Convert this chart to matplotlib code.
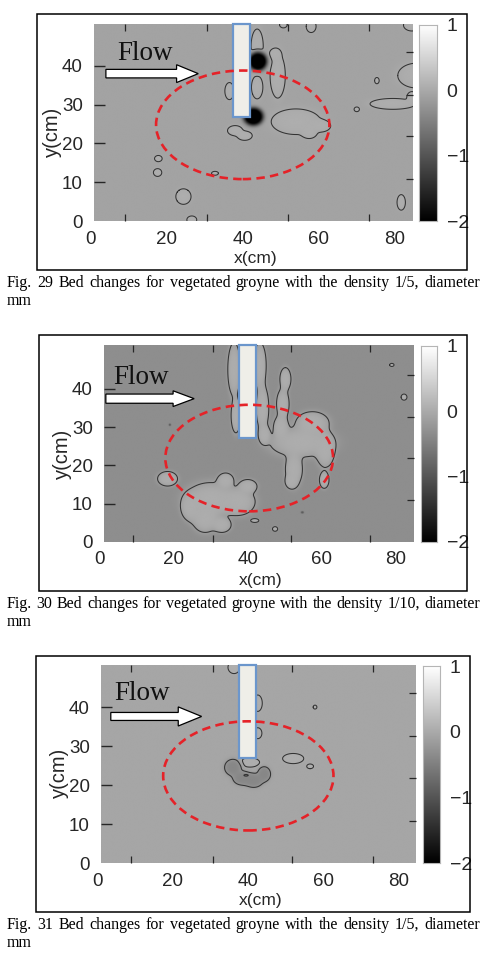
import numpy as np
import matplotlib
matplotlib.use('Agg')
import matplotlib.pyplot as plt
from matplotlib.patches import Rectangle, Ellipse, FancyArrow
from matplotlib.transforms import offset_copy

plt.rcParams['contour.negative_linestyle'] = 'solid'

W, H = 482, 964

############ [shared axis data] ############
x_tick_labels = [0, 20, 40, 60, 80]
y_tick_labels = [0, 10, 20, 30, 40]
x_inner_ticks = [9.0, 30.6, 51.8, 73.2]
y_inner_ticks = [10.9, 21.8, 32.6, 43.5]
cbar_ticks = [1, 0, -1, -2]
cbar_min, cbar_max = -2, 1

captions = [
    "Fig. 29 Bed changes for vegetated groyne with the density 1/5, diameter",
    "Fig. 30 Bed changes for vegetated groyne with the density 1/10, diameter",
    "Fig. 31 Bed changes for vegetated groyne with the density 1/5, diameter",
]

############ [Fig. 29] ############
p1_bg = -0.08
p1_cx = [54.0, 60.5, 57.5, 49.2, 48.5, 38.0, 40.5, 79.5, 84.5, 70.0, 85.8, 75.3, 84.5, 58.0, 50.7,
         81.7, 17.8, 17.6, 32.7, 24.4, 26.6, 43.8, 36.5, 43.8, 44.0, 42.8]
p1_cy = [25.6, 24.5, 22.8, 37.5, 43.0, 23.3, 22.0, 30.2, 32.0, 28.8, 37.5, 36.2, 50.5, 50.2, 50.6,
         4.8, 16.1, 12.5, 12.3, 6.3, 0.3, 45.0, 33.5, 34.5, 41.0, 26.8]
p1_rx = [6.5, 2.6, 2.0, 2.0, 1.5, 2.0, 2.0, 6.0, 1.3, 0.7, 5.0, 0.6, 2.2, 1.3, 1.0,
         1.1, 1.0, 1.1, 0.9, 2.0, 1.3, 1.6, 1.2, 1.5, 2.2, 2.4]
p1_ry = [3.3, 1.5, 1.5, 5.8, 1.5, 1.3, 1.2, 1.4, 1.3, 0.6, 3.2, 0.8, 1.5, 1.6, 0.8,
         2.0, 0.8, 1.0, 0.5, 2.0, 1.0, 4.5, 2.2, 3.0, 2.2, 2.1]
p1_amp = [0.12] * 24 + [-2.6, -2.6]
p1_levels = [p1_bg + 0.06]

############ [Fig. 30] ############
p2_bg = -0.33
p2_cx = [36.3, 36.8, 43.3, 44.0, 44.5, 50.2, 49.5, 49.0, 57.5, 54.5, 61.0, 52.5, 51.8,
         30.0, 37.5, 28.5, 24.5, 34.0, 40.0, 33.0, 18.3, 60.7, 41.9, 47.4, 82.3, 79.0, 54.8, 18.9]
p2_cy = [45.0, 33.0, 46.0, 35.0, 28.0, 42.5, 36.0, 30.0, 31.0, 26.0, 24.0, 19.0, 15.8,
         11.0, 10.5, 6.0, 9.0, 16.0, 14.5, 4.5, 16.5, 16.2, 5.6, 3.4, 37.8, 46.2, 7.7, 30.6]
p2_rx = [1.7, 1.3, 1.7, 1.7, 1.6, 1.5, 1.7, 2.0, 4.5, 8.5, 2.5, 2.3, 1.6,
         7.0, 4.5, 3.5, 2.5, 2.2, 2.5, 2.5, 2.7, 1.3, 1.1, 0.7, 0.8, 0.6, 0.4, 0.3]
p2_ry = [7.0, 4.5, 6.0, 6.0, 2.5, 3.0, 4.0, 3.0, 3.0, 3.8, 4.5, 4.5, 1.8,
         4.5, 3.5, 3.5, 3.5, 2.0, 1.8, 2.0, 1.9, 2.2, 0.5, 0.6, 0.8, 0.4, 0.3, 0.3]
p2_amp = [0.36] * 26 + [-0.6, -0.6]
p2_levels = [p2_bg + 0.18]

############ [Fig. 31] ############
p3_bg = -0.05
p3_cx = [36.0, 38.5, 41.5, 44.3, 39.5, 40.5, 52.0, 56.5, 36.3, 42.6, 42.6, 57.8]
p3_cy = [24.5, 21.8, 21.2, 22.8, 22.5, 25.8, 26.8, 24.8, 50.2, 41.0, 33.3, 40.0]
p3_rx = [2.2, 2.5, 2.5, 1.7, 0.7, 2.6, 2.8, 0.9, 1.6, 1.2, 1.1, 0.5]
p3_ry = [2.1, 1.8, 1.8, 1.9, 0.25, 1.2, 1.3, 0.6, 1.6, 2.1, 1.4, 0.5]
p3_amp = [-0.36, -0.36, -0.36, -0.36, -0.7, 0.1, 0.1, 0.1, 0.1, 0.1, 0.1, 0.1]
p3_levels = [p3_bg - 0.5, p3_bg - 0.18, p3_bg + 0.05]

# groyne (x0, x1, y bottom), dashed ellipse (cx, cy, half w, half h)
groyne = [(37.5, 42.0, 26.7), (37.7, 42.3, 27.1), (37.7, 42.1, 26.9)]
ellipse = [(40.0, 24.8, 22.8, 14.0), (40.4, 21.9, 22.7, 13.9), (40.1, 22.35, 22.6, 14.0)]
# flow arrow (tail x, tip x, y, shaft width, head width, head length), "Flow" text pos
arrow = [(4.0, 28.3, 38.0, 2.2, 4.6, 5.7), (1.6, 25.5, 37.4, 2.4, 4.1, 5.7),
         (3.6, 27.7, 37.6, 2.05, 4.9, 6.2)]
flow_xy = [(7.0, 41.5), (3.6, 41.2), (4.4, 41.9)]

fields = [
    (p1_bg, p1_cx, p1_cy, p1_rx, p1_ry, p1_amp, p1_levels),
    (p2_bg, p2_cx, p2_cy, p2_rx, p2_ry, p2_amp, p2_levels),
    (p3_bg, p3_cx, p3_cy, p3_rx, p3_ry, p3_amp, p3_levels),
]

# pixel layout of each panel
layout = [
    dict(area=(94, 24, 413, 221), frame=(37, 14, 467, 270), cbar=(419, 25, 437, 221),
         xlim=(0.87, 84.8), ylim=(0, 50.8), cap=287),
    dict(area=(104, 345, 414, 542), frame=(39, 335, 467, 591), cbar=(421, 346, 437, 542),
         xlim=(1.1, 85.0), ylim=(0, 51.4), cap=608),
    dict(area=(101, 665, 416, 863), frame=(36, 656, 470, 912), cbar=(423, 666, 440, 863),
         xlim=(1.0, 84.6), ylim=(0, 50.8), cap=929),
]

sans = 'Liberation Sans'
serif = 'Liberation Serif'
tick_col = '#262626'


def px_axes(fig, box):
    l, t, r, b = box
    return fig.add_axes([l / W, 1 - b / H, (r - l) / W, (b - t) / H])


def bed_field(bg, cx, cy, rx, ry, amp):
    # blobs of the same amplitude merge smoothly (union), groups combine by max / min
    xs = np.linspace(0, 86, 861)
    ys = np.linspace(0, 52, 521)
    X, Y = np.meshgrid(xs, ys)
    groups = {}
    for i in range(len(cx)):
        r2 = ((X - cx[i]) / rx[i]) ** 2 + ((Y - cy[i]) / ry[i]) ** 2
        g = np.exp(-np.log(2) * r2 ** 2)
        groups[amp[i]] = groups.get(amp[i], np.ones_like(X)) * (1 - g)
    pos = np.zeros_like(X)
    neg = np.zeros_like(X)
    for a, rest in groups.items():
        u = a * (1 - rest)
        if a > 0:
            pos = np.maximum(pos, u)
        else:
            neg = np.minimum(neg, u)
    return X, Y, bg + pos + neg


def justified(fig, text, y_px, left=7, right=480, size=11.5):
    words = text.split()
    rend = fig.canvas.get_renderer()
    objs = [fig.text(0, 1 - y_px / H, w, family=serif, size=size, va='baseline') for w in words]
    widths = [o.get_window_extent(rend).width for o in objs]
    gap = (right - left - sum(widths)) / (len(words) - 1)
    x = left
    for o, w in zip(objs, widths):
        o.set_x(x / W)
        x += w + gap


fig = plt.figure(figsize=(W / 100, H / 100), dpi=100)

for k in range(3):
    lay = layout[k]
    bg, cx, cy, rx, ry, amp, levels = fields[k]

    fl, ft, fr, fb = lay['frame']
    fig.add_artist(Rectangle((fl / W, 1 - fb / H), (fr - fl) / W, (fb - ft) / H,
                             transform=fig.transFigure, fill=False, ec='black', lw=1.1))

    ax = px_axes(fig, lay['area'])
    X, Y, Z = bed_field(bg, cx, cy, rx, ry, amp)
    ax.imshow(Z, origin='lower', extent=(0, 86, 0, 52), cmap='gray',
              vmin=cbar_min, vmax=cbar_max, aspect='auto', interpolation='bilinear')
    ax.contour(X, Y, Z, levels=levels, colors='#333333', linewidths=0.75,
               linestyles='solid')
    ax.set_xlim(*lay['xlim'])
    ax.set_ylim(*lay['ylim'])
    for s in ax.spines.values():
        s.set_visible(False)

    # ticks
    ax.set_xticks(x_inner_ticks)
    ax.set_xticklabels([])
    ax.tick_params(axis='x', direction='in', length=5, width=0.9, color=tick_col,
                   top=True, bottom=True)
    ax.set_yticks(y_tick_labels)
    ax.set_yticklabels([str(v) for v in y_tick_labels], family=sans, size=13.5, color=tick_col)
    ax.tick_params(axis='y', direction='in', length=8, width=1.0, color=tick_col, pad=8)
    ax.yaxis.get_major_ticks()[0].tick1line.set_visible(False)
    sec = ax.secondary_yaxis('right')
    sec.set_yticks(y_inner_ticks)
    sec.set_yticklabels([])
    sec.tick_params(direction='in', length=5, width=0.9, color=tick_col)
    sec.spines['right'].set_visible(False)

    tr = offset_copy(ax.get_xaxis_transform(), fig=fig, y=-18, units='dots')
    for v in x_tick_labels:
        ax.text(v, 0, str(v), transform=tr, ha='center', va='center',
                family=sans, size=13.5, color=tick_col)
    trl = offset_copy(ax.get_xaxis_transform(), fig=fig, y=-38, units='dots')
    ax.text(43.4, 0, 'x(cm)', transform=trl, ha='center', va='center',
            family=sans, size=12.5, color=tick_col)
    trx = offset_copy(ax.get_yaxis_transform(), fig=fig, x=-42, units='dots')
    ax.text(0, 23, 'y(cm)', transform=trx, ha='center', va='center', rotation=90,
            family=sans, size=14.5, color=tick_col)

    # groyne
    gx0, gx1, gy0 = groyne[k]
    ax.add_patch(Rectangle((gx0, gy0), gx1 - gx0, lay['ylim'][1] - gy0, fc='#efeee8',
                           ec='#6b96cc', lw=1.6, zorder=3, clip_on=False))
    # dashed ellipse
    ecx, ecy, ea, eb = ellipse[k]
    ax.add_patch(Ellipse((ecx, ecy), 2 * ea, 2 * eb, fill=False, ec='#e52228', lw=1.9,
                         ls=(0, (3.2, 2.0)), zorder=4))
    # flow arrow
    ax0, ax1, ay, aw, ahw, ahl = arrow[k]
    ax.add_patch(FancyArrow(ax0, ay, ax1 - ax0, 0, width=aw, head_width=ahw, head_length=ahl,
                            length_includes_head=True, fc='white', ec='black', lw=0.9, zorder=5))
    ax.text(flow_xy[k][0], flow_xy[k][1], 'Flow', family=serif, size=19.5, color='#111111',
            ha='left', va='baseline', zorder=6)

    # colorbar
    cax = px_axes(fig, lay['cbar'])
    grad = np.linspace(cbar_max, cbar_min, 256)[:, None]
    cax.imshow(grad, extent=(0, 1, cbar_min, cbar_max), cmap='gray', vmin=cbar_min,
               vmax=cbar_max, aspect='auto')
    cax.set_xticks([])
    cax.yaxis.tick_right()
    cax.set_yticks(cbar_ticks)
    cax.set_yticklabels([str(v).replace('-', '\u2212') for v in cbar_ticks],
                        family=sans, size=14, color=tick_col)
    cax.tick_params(axis='y', length=0, pad=7)
    for s in cax.spines.values():
        s.set_color('#b5b5b5')
        s.set_linewidth(0.8)

    justified(fig, captions[k], lay['cap'])
    fig.text(7 / W, 1 - (lay['cap'] + 18) / H, 'mm', family=serif, size=11.5, va='baseline')

fig.savefig('out.png', dpi=100)
